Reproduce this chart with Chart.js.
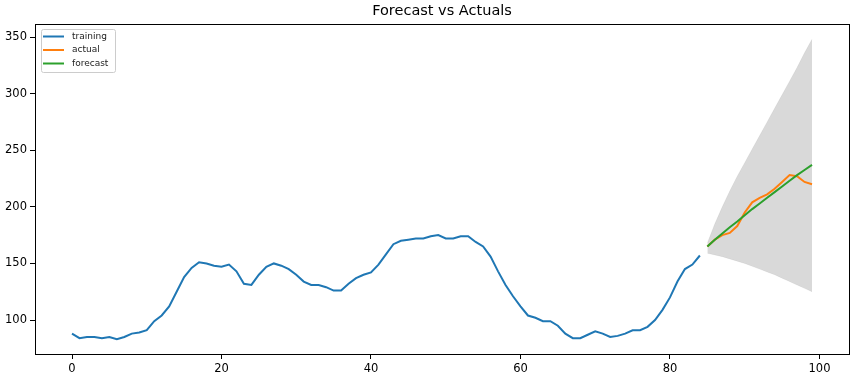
<!DOCTYPE html>
<html lang="en">
<head>
    <meta charset="UTF-8">
    <title>Forecast vs Actuals</title>
    <script src="https://cdn.jsdelivr.net/npm/chart.js"></script>
    <style>
        html, body { margin: 0; padding: 0; background: #fff; }
        #wrap { width: 856px; height: 379px; }
    </style>
</head>
<body>
    <div id="wrap"><canvas id="forecastChart"></canvas></div>

    <script>
        // training series, x = 0..84
        const training = [88, 84, 85, 85, 84, 85, 83, 85, 88, 89,
            91, 99, 104, 112, 125, 138, 146, 151, 150, 148,
            147, 149, 143, 132, 131, 140, 147, 150, 148, 145,
            140, 134, 131, 131, 129, 126, 126, 132, 137, 140,
            142, 149, 158, 167, 170, 171, 172, 172, 174, 175,
            172, 172, 174, 174, 169, 165, 156, 143, 131, 121,
            112, 104, 102, 99, 99, 95, 88, 84, 84, 87,
            90, 88, 85, 86, 88, 91, 91, 94, 100, 109,
            120, 134, 145, 149, 157];

        // test period, x = 85..99
        const forecastStart = 85;
        const actual   = [165, 171, 175, 177, 183, 195, 204, 208, 211, 216, 222, 228, 227, 222, 220];
        const forecast = [165, 171, 176.5, 182, 187, 192.5, 198, 203, 208, 213, 218, 223, 228, 232.5, 237];
        const upper    = [168, 185, 200, 214, 227, 239, 251, 263, 275, 287, 299, 311, 323, 336, 348];
        const lower    = [159, 157.5, 156, 154, 152, 150, 147.5, 145, 142.5, 140, 137, 134, 131, 128, 125];

        const xTicks = [0, 20, 40, 60, 80, 100];
        const yTicks = [100, 150, 200, 250, 300, 350];

        const toPoints = (arr, start) => arr.map((v, i) => ({ x: start + i, y: v }));

        // box around plot + small legend in the upper left corner
        const framePlugin = {
            id: "frame",
            afterDraw(chart) {
                const { ctx, chartArea: a } = chart;
                ctx.save();
                ctx.strokeStyle = "#000";
                ctx.lineWidth = 1;
                ctx.strokeRect(Math.round(a.left) + 0.5, Math.round(a.top) + 0.5,
                    Math.round(a.right - a.left), Math.round(a.bottom - a.top));

                const items = chart.data.datasets.filter(d => d.inLegend);
                const bx = a.left + 6, by = a.top + 5, bw = 74, bh = 43;
                ctx.fillStyle = "rgba(255,255,255,0.8)";
                ctx.strokeStyle = "#cccccc";
                ctx.beginPath();
                ctx.roundRect(bx + 0.5, by + 0.5, bw, bh, 2);
                ctx.fill();
                ctx.stroke();
                ctx.font = "9px 'DejaVu Sans'";
                ctx.textBaseline = "middle";
                items.forEach((d, i) => {
                    const y = by + 7.5 + i * 13.5;
                    ctx.strokeStyle = d.borderColor;
                    ctx.lineWidth = 2;
                    ctx.beginPath();
                    ctx.moveTo(bx + 2, y);
                    ctx.lineTo(bx + 23, y);
                    ctx.stroke();
                    ctx.fillStyle = "#222";
                    ctx.fillText(d.label, bx + 31, y);
                });
                ctx.restore();
            }
        };

        const tickColor = "#000";

        new Chart(document.getElementById("forecastChart"), {
            type: "line",
            data: {
                datasets: [
                    { label: "training", data: toPoints(training, 0), borderColor: "#1f77b4", inLegend: true, order: 0 },
                    { label: "actual", data: toPoints(actual, forecastStart), borderColor: "#ff7f0e", inLegend: true, order: 1 },
                    { label: "forecast", data: toPoints(forecast, forecastStart), borderColor: "#2ca02c", inLegend: true, order: 0 },
                    { label: "upper", data: toPoints(upper, forecastStart), borderColor: "rgba(0,0,0,0.05)", borderWidth: 1,
                      backgroundColor: "rgba(0,0,0,0.15)", fill: "+1", order: 10 },
                    { label: "lower", data: toPoints(lower, forecastStart), borderColor: "rgba(0,0,0,0.05)", borderWidth: 1,
                      fill: false, order: 11 }
                ]
            },
            options: {
                responsive: true,
                maintainAspectRatio: false,
                animation: false,
                layout: { padding: { left: 0, right: 7, top: 0, bottom: 0 } },
                elements: {
                    line: { borderWidth: 2, tension: 0 },
                    point: { radius: 0, hoverRadius: 0 }
                },
                plugins: {
                    legend: { display: false },
                    tooltip: { enabled: false },
                    title: {
                        display: true,
                        fullSize: false,
                        text: "Forecast vs Actuals",
                        color: "#000",
                        font: { family: "DejaVu Sans", size: 14.5, weight: "normal" },
                        padding: { top: 3, bottom: 3.6 }
                    }
                },
                scales: {
                    x: {
                        type: "linear",
                        min: -4.95,
                        max: 103.95,
                        afterBuildTicks: s => { s.ticks = xTicks.map(v => ({ value: v })); },
                        afterFit: s => { s.height = 25; },
                        grid: { drawOnChartArea: false, drawTicks: true, tickLength: 5, color: tickColor },
                        border: { display: true, color: "#000" },
                        ticks: { color: "#000", padding: 3, maxRotation: 0, font: { family: "DejaVu Sans", size: 11.5 } }
                    },
                    y: {
                        min: 70,
                        max: 361.5,
                        afterBuildTicks: s => { s.ticks = yTicks.map(v => ({ value: v })); },
                        afterFit: s => { s.width = 35; },
                        grid: { drawOnChartArea: false, drawTicks: true, tickLength: 5, color: tickColor },
                        border: { display: true, color: "#000" },
                        ticks: { color: "#000", padding: 3, font: { family: "DejaVu Sans", size: 11.5 } }
                    }
                }
            },
            plugins: [framePlugin]
        });
    </script>
</body>
</html>
